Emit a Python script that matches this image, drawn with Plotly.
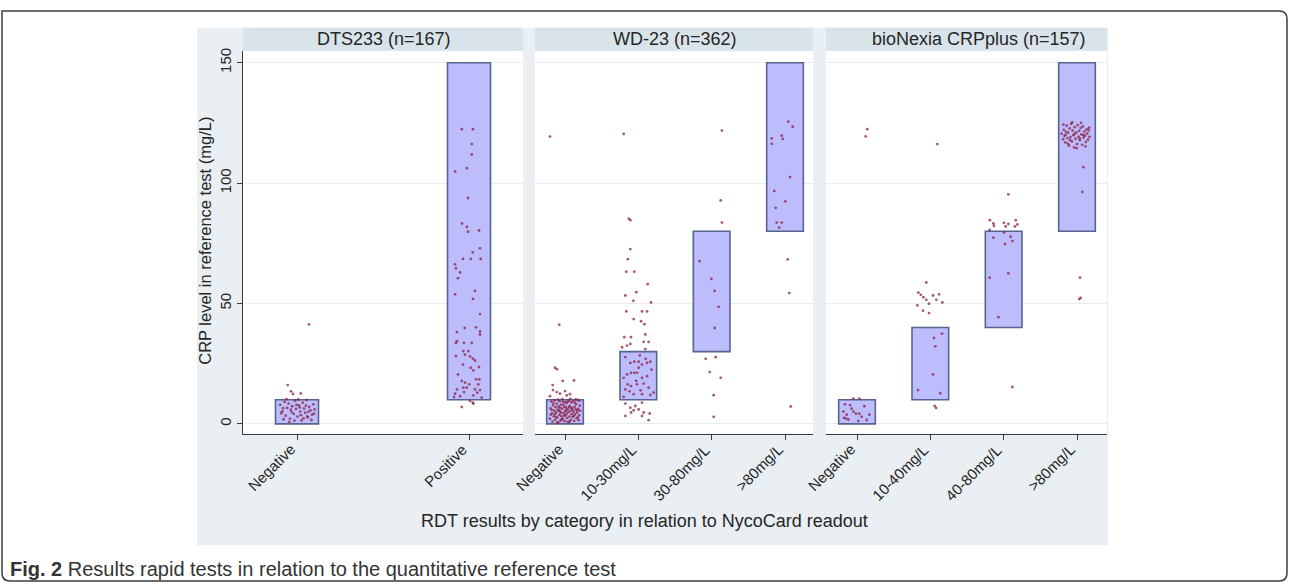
import plotly.graph_objects as go

W, H = 1290, 586

# ---------------- data ----------------
panel_titles = ["DTS233 (n=167)", "WD-23 (n=362)", "bioNexia CRPplus (n=157)"]
cats_dts = ["Negative", "Positive"]
cats_wd = ["Negative", "10-30mg/L", "30-80mg/L", ">80mg/L"]
cats_bio = ["Negative", "10-40mg/L", "40-80mg/L", ">80mg/L"]

box_low_dts = [0, 10]
box_high_dts = [10, 150]
box_low_wd = [0, 10, 30, 80]
box_high_wd = [10, 30, 80, 150]
box_low_bio = [0, 10, 40, 80]
box_high_bio = [10, 40, 80, 150]

y_ticks = [0, 50, 100, 150]

dts_neg = [(-0.054,16.1),(0.022,12.6),(-0.023,12.4),(0.070,41.3),(-0.035,13.5),
    (-0.098,7.9),(-0.085,5.2),(-0.072,9.1),(-0.066,3.4),(-0.058,6.6),(-0.049,8.4),(-0.041,2.2),
    (-0.036,5.9),(-0.028,7.3),(-0.019,4.1),(-0.012,9.6),(-0.006,6.2),(0.003,3.0),(0.011,7.7),
    (0.018,5.1),(0.026,1.4),(0.033,8.8),(0.041,6.4),(0.048,4.6),(0.056,9.9),(0.063,2.7),(0.071,7.0),
    (0.079,5.6),(0.088,3.8),(0.095,8.1),(0.102,6.0),(-0.092,4.4),(-0.078,1.9),(-0.061,10.3),
    (-0.045,0.8),(-0.031,4.9),(-0.015,1.3),(0.007,10.1),(0.023,3.6),(0.038,2.3),(0.052,7.6),
    (0.067,5.0),(0.084,1.6),(0.099,4.2),(-0.003,7.9),(0.015,6.8),(-0.081,6.5),(0.060,3.1)]
dts_pos = [(-0.042,122.4),(0.023,122.4),(0.016,116.2),(0.016,111.9),(-0.012,106.2),(-0.081,104.8),
    (-0.006,93.8),(-0.041,83.2),(-0.012,81.8),(-0.006,79.8),(0.058,80.3),(0.064,72.9),(0.022,71.2),
    (-0.035,68.5),(0.010,68.5),(0.068,68.5),(-0.081,66.2),(-0.076,64.6),(-0.052,62.9),(-0.064,60.5),
    (-0.081,53.8),(0.035,55.2),(0.023,51.9),(0.064,45.6),(-0.070,38.1),(-0.025,39.8),(0.041,40.1),
    (0.064,38.4),(0.064,37.1),(-0.076,33.6),(-0.070,34.3),(-0.029,33.6),(0.016,33.6),(-0.076,28.1),
    (-0.033,30.2),(-0.004,30.2),(-0.023,28.7),(0.006,28.0),(0.022,27.1),(0.035,26.3),(0.058,23.6),
    (-0.035,24.6),(0.010,23.3),(0.025,22.2),(-0.064,20.5),(-0.042,17.8),(-0.023,17.1),(0.041,18.5),
    (0.060,18.5),(0.054,16.4),(-0.033,15.0),(-0.013,15.0),(0.002,16.4),(-0.070,14.3),(0.064,14.0),
    (-0.081,12.5),(0.035,14.3),(0.048,12.9),(-0.052,11.5),(0.025,11.8),(0.074,10.9),(-0.087,11.1),
    (-0.042,7.0),(0.006,9.5),(0.025,8.4),(0.022,8.8),(-0.029,13.2)]

wd_neg = [(-0.205,119.3),(-0.078,41.2),(-0.136,23.3),(-0.109,22.7),(-0.168,16.1),(-0.031,17.8),
    (0.123,18.0),(-0.164,14.0),(-0.113,13.2),(-0.068,12.5),(0.000,13.6),(0.023,11.8),(0.068,12.3),
    (-0.205,11.5),
    (-0.205,2.1),(-0.198,6.4),(-0.187,9.2),(-0.176,4.3),(-0.171,0.9),(-0.163,7.7),(-0.152,3.1),
    (-0.149,5.5),(-0.141,9.8),(-0.133,1.7),(-0.128,6.9),(-0.119,4.8),(-0.112,8.3),(-0.104,2.6),
    (-0.098,5.9),(-0.091,0.6),(-0.087,7.2),(-0.079,3.7),(-0.073,9.4),(-0.066,5.1),(-0.061,1.3),
    (-0.054,8.0),(-0.048,3.2),(-0.041,6.3),(-0.036,10.2),(-0.029,2.0),(-0.022,7.9),(-0.017,4.4),
    (-0.009,6.8),(-0.004,1.1),(0.003,9.0),(0.009,3.5),(0.016,5.7),(0.021,8.6),(0.028,2.4),
    (0.034,6.1),(0.041,0.8),(0.047,4.9),(0.053,9.7),(0.059,3.0),(0.066,7.4),(0.072,5.3),(0.078,1.6),
    (0.085,8.9),(0.091,4.0),(0.097,6.6),(0.104,2.8),(0.111,9.3),(0.117,5.0),(0.124,1.2),(0.131,7.1),
    (0.137,3.9),(0.144,6.0),(0.151,8.2),(0.158,2.3),(0.164,4.7),(0.172,9.9),(0.179,6.2),(0.186,1.5),
    (0.193,3.6),(0.201,7.5),(0.208,5.4),(-0.193,3.8),(-0.158,8.7),(-0.124,2.9),(-0.095,10.0),
    (-0.069,6.7),(-0.044,1.9),(-0.012,3.4),(0.012,7.0),(0.038,9.2),(0.062,0.9),(0.088,6.4),
    (0.121,3.3),(0.147,10.1),(0.175,2.7),(-0.182,5.8),(-0.137,4.1),(-0.083,5.6),(-0.057,4.6),
    (-0.025,9.1),(0.025,4.2),(0.056,6.9),(0.101,5.8),(0.134,8.8),(0.168,5.6),(0.196,9.5),
    (-0.107,0.5),(0.074,10.4),(-0.001,5.2)]
wd_10_30 = [(-0.200,120.4),(-0.109,84.6),(-0.130,85.2),(-0.109,72.6),(-0.143,68.4),(-0.164,63.2),
    (-0.055,63.2),(0.127,58.0),(-0.027,54.7),(-0.177,53.3),(-0.068,51.1),(0.173,50.4),(-0.164,46.7),
    (0.050,46.7),(0.119,46.7),(-0.064,43.5),(0.037,42.6),(0.082,41.4),(0.095,37.1),(-0.191,36.0),
    (-0.100,36.0),(0.140,34.0),(0.072,34.0),(-0.222,31.8),(-0.154,32.5),(-0.109,33.2),(0.095,31.0),
    (-0.177,27.7),(-0.109,25.3),(-0.055,25.8),(0.005,25.8),(0.050,24.6),(0.119,25.3),(0.164,25.8),
    (0.005,23.3),(-0.200,19.1),(-0.154,20.5),(-0.100,21.2),(-0.055,21.2),(-0.018,21.2),(0.050,19.1),
    (0.119,19.8),(-0.145,16.4),(-0.100,15.7),(-0.018,16.4),(0.073,16.7),(0.141,15.0),(-0.177,14.3),
    (-0.064,12.3),(0.050,12.3),(0.164,12.0),(0.209,13.0),(-0.200,11.2),(0.020,28.4),(-0.030,17.8),
    (0.100,27.0),(0.180,22.5),(-0.120,13.5),(0.030,13.9),
    (-0.177,8.4),(-0.109,6.7),(-0.041,7.4),(0.005,6.0),(0.050,8.8),(0.073,4.7),(0.155,4.3),
    (-0.177,3.3),(0.050,3.3),(0.141,1.5),(-0.100,4.7),(-0.064,5.6)]
wd_30_80 = [(0.140,121.8),(0.123,92.8),(0.140,83.6),(-0.164,67.6),(-0.004,60.2),(0.041,55.2),
    (0.095,48.6),(0.041,39.8),(-0.082,27.0),(0.055,27.7),(-0.027,21.5),(0.123,19.1),(0.027,11.9),
    (0.027,2.9)]
wd_80 = [(0.045,125.5),(0.105,123.4),(-0.181,118.6),(-0.181,116.3),(-0.045,119.7),(-0.031,118.3),
    (0.068,102.5),(-0.146,96.7),(0.004,92.4),(-0.127,89.7),(-0.113,83.6),(-0.045,83.6),(-0.080,81.5),
    (0.037,68.3),(0.059,54.3),(0.078,7.2)]

bio_neg = [(0.140,122.4),(0.119,119.4),
    (-0.050,10.5),(0.031,10.5),(-0.164,8.1),(-0.095,7.8),(0.100,7.3),(-0.186,5.1),(-0.050,5.1),
    (-0.014,4.2),(0.031,4.2),(0.168,3.8),(-0.141,3.8),(-0.177,2.5),(-0.150,2.2),(-0.118,1.8),
    (0.018,1.2),(0.132,1.6),(-0.073,6.3),(0.064,2.9)]
bio_10_40 = [(0.095,116.2),(-0.055,58.7),(-0.164,54.5),(-0.130,53.6),(-0.095,52.6),(0.037,53.3),
    (0.119,53.8),(-0.055,51.5),(0.082,51.5),(0.164,50.4),(-0.018,49.9),(-0.177,49.2),(-0.100,47.0),
    (-0.018,46.0),(0.160,37.5),(0.050,35.7),(0.068,32.2),(0.037,20.5),(-0.168,14.0),(0.136,12.7),
    (0.059,7.4),(0.078,6.6)]
bio_40_80 = [(0.064,95.3),(-0.187,84.6),(-0.140,83.2),(0.004,83.5),(0.064,83.0),(0.164,84.6),
    (0.187,82.8),(-0.132,82.2),(0.027,82.0),(0.154,82.0),(-0.191,80.6),(-0.140,77.3),(0.004,79.5),
    (0.095,77.7),(0.018,74.7),(0.119,75.9),(-0.191,60.7),(0.064,62.5),(-0.072,44.3),(0.119,15.3)]
bio_80 = [(0.086,106.6),(0.072,96.3),(0.041,60.7),(0.031,51.8),(0.050,52.3),
    (-0.210,120.5),(-0.190,118.2),(-0.180,122.1),(-0.170,119.6),(-0.160,116.9),(-0.150,121.3),
    (-0.140,123.8),(-0.130,118.7),(-0.120,120.9),(-0.110,115.6),(-0.100,122.7),(-0.090,119.1),
    (-0.080,124.6),(-0.070,117.3),(-0.060,121.8),(-0.050,119.9),(-0.040,114.8),(-0.030,123.2),
    (-0.020,118.4),(-0.010,121.0),(0.000,116.2),(0.010,124.1),(0.020,119.3),(0.030,121.7),
    (0.040,117.8),(0.050,122.9),(0.060,120.2),(0.070,115.9),(0.080,123.5),(0.090,118.9),
    (0.100,121.4),(0.110,119.7),(0.120,117.1),(0.130,122.3),(0.140,120.6),(0.150,118.0),
    (0.160,121.9),(0.170,119.2),(-0.185,124.3),(-0.125,116.4),(-0.065,125.2),(-0.005,114.5),
    (0.055,125.0),(0.115,115.2),(0.165,123.0),(-0.095,117.9),(0.035,118.6),(-0.035,120.4),
    (0.085,120.0),(-0.155,120.0)]

panels = [
    dict(cats=cats_dts, low=box_low_dts, high=box_high_dts, pts=[dts_neg, dts_pos], bw=0.25,
         px=(243, 523), ticks=(297, 469), title_x=384),
    dict(cats=cats_wd, low=box_low_wd, high=box_high_wd, pts=[wd_neg, wd_10_30, wd_30_80, wd_80], bw=0.5,
         px=(535, 813), ticks=(565, 785), title_x=675),
    dict(cats=cats_bio, low=box_low_bio, high=box_high_bio, pts=[bio_neg, bio_10_40, bio_40_80, bio_80], bw=0.5,
         px=(826, 1107), ticks=(857, 1077), title_x=979),
]

# ---------------- styling ----------------
BG = "#e9eff3"
STRIP = "#d8e3ea"
GRID = "#e6ecf0"
BOX_FILL = "#bdbdfd"
BOX_LINE = "#55658f"
DOT = "rgba(140,35,65,0.75)"
AX = "#3a3a3a"
TXT = "#262626"
FONT = "Liberation Sans, Arial, sans-serif"

def X(px):
    return px / W

def Y(py):
    return 1 - py / H

plot_top, plot_bot = 48, 433
y0_px, y150_px = 423, 60
scale = (y0_px - y150_px) / 150.0
yr = [-(plot_bot - y0_px) / scale, (y0_px - plot_top) / scale]

fig = go.Figure()
layout = dict(
    width=W, height=H, margin=dict(l=0, r=0, t=0, b=0),
    paper_bgcolor="white", plot_bgcolor="white", showlegend=False,
    font=dict(family=FONT, color=TXT),
    shapes=[], annotations=[],
)

layout["shapes"].append(dict(type="rect", xref="paper", yref="paper", layer="below",
    x0=X(197), x1=X(1108), y0=Y(545), y1=Y(25), fillcolor=BG, line=dict(width=0)))

for i, p in enumerate(panels):
    n = len(p["cats"])
    xs = list(range(1, n + 1))
    sfx = "" if i == 0 else str(i + 1)
    xa, ya = "x" + sfx, "y" + sfx
    t0, t1 = p["ticks"]
    unit = (t1 - t0) / (n - 1)
    l, r = p["px"]
    xr = [1 - (t0 - l) / unit, n + (r - t1) / unit]

    fig.add_trace(go.Bar(
        x=xs, y=[h - lo for h, lo in zip(p["high"], p["low"])], base=p["low"], width=p["bw"],
        marker=dict(color=BOX_FILL, line=dict(color=BOX_LINE, width=1.6)),
        xaxis=xa, yaxis=ya, hoverinfo="skip"))
    for k, pts in enumerate(p["pts"]):
        fig.add_trace(go.Scatter(
            x=[xs[k] + d for d, v in pts], y=[v for d, v in pts], mode="markers",
            marker=dict(size=2.8, color=DOT, line=dict(width=0)),
            xaxis=xa, yaxis=ya, hoverinfo="skip"))

    layout["xaxis" + sfx] = dict(
        domain=[X(l), X(r)], range=xr, anchor=ya, tickvals=xs, ticktext=[""] * n,
        ticks="outside", ticklen=5, tickcolor=AX, tickwidth=1,
        showline=True, linecolor=AX, linewidth=1, showgrid=False, zeroline=False, fixedrange=True)
    layout["yaxis" + sfx] = dict(
        domain=[Y(plot_bot), Y(plot_top)], range=yr, anchor=xa, tickvals=y_ticks,
        showgrid=True, gridcolor=GRID, gridwidth=1, zeroline=False, fixedrange=True,
        showline=(i == 0), linecolor=AX, linewidth=1,
        ticks="outside" if i == 0 else "", ticklen=5, tickcolor=AX,
        showticklabels=(i == 0), tickangle=-90,
        tickfont=dict(size=15, color=TXT, family=FONT))

    for k, c in enumerate(p["cats"]):
        layout["annotations"].append(dict(text=c, xref=xa, yref="paper", x=xs[k], y=Y(437),
            xanchor="right", yanchor="top", textangle=-45, showarrow=False, xshift=4,
            font=dict(size=15, color=TXT, family=FONT)))

    layout["shapes"].append(dict(type="rect", xref="paper", yref="paper", layer="below",
        x0=X(l), x1=X(r), y0=Y(plot_bot), y1=Y(plot_top), fillcolor="white", line=dict(width=0)))
    layout["shapes"].append(dict(type="rect", xref="paper", yref="paper", layer="below",
        x0=X(l), x1=X(r), y0=Y(plot_top), y1=Y(25), fillcolor=STRIP, line=dict(width=0)))
    layout["annotations"].append(dict(text=panel_titles[i], xref="paper", yref="paper",
        x=X(p["title_x"]), y=Y(36.5), showarrow=False, xanchor="center", yanchor="middle",
        font=dict(size=18, color=TXT, family=FONT)))

layout["annotations"].append(dict(text="CRP level in reference test (mg/L)", xref="paper", yref="paper",
    x=X(205), y=Y(239), textangle=-90, showarrow=False, xanchor="center", yanchor="middle",
    font=dict(size=16.5, color=TXT, family=FONT)))
layout["annotations"].append(dict(text="RDT results by category in relation to NycoCard readout",
    xref="paper", yref="paper", x=X(644.5), y=Y(521), showarrow=False, xanchor="center",
    yanchor="middle", font=dict(size=18, color=TXT, family=FONT)))

layout["annotations"].append(dict(
    text="<b>Fig. 2</b> Results rapid tests in relation to the quantitative reference test",
    xref="paper", yref="paper", x=X(8), y=Y(569), showarrow=False, xanchor="left", yanchor="middle",
    font=dict(size=20, color="#333333", family=FONT)))

def P(px, py):
    return f"{X(px):.5f},{Y(py):.5f}"
frame = (f"M {P(2,8)} L {P(1279,8)} Q {P(1287,8)} {P(1287,16)} L {P(1287,573)} "
         f"Q {P(1287,581)} {P(1279,581)} L {P(10,581)} Q {P(2,581)} {P(2,573)} Z")
layout["shapes"].append(dict(type="path", xref="paper", yref="paper", path=frame,
    line=dict(color="#3c3c3c", width=1.5), fillcolor="rgba(0,0,0,0)", layer="above"))

fig.update_layout(**layout)
fig.write_html("out.html", config={"displayModeBar": False},
               post_script="document.body.style.margin='0';document.body.style.overflow='hidden';")
